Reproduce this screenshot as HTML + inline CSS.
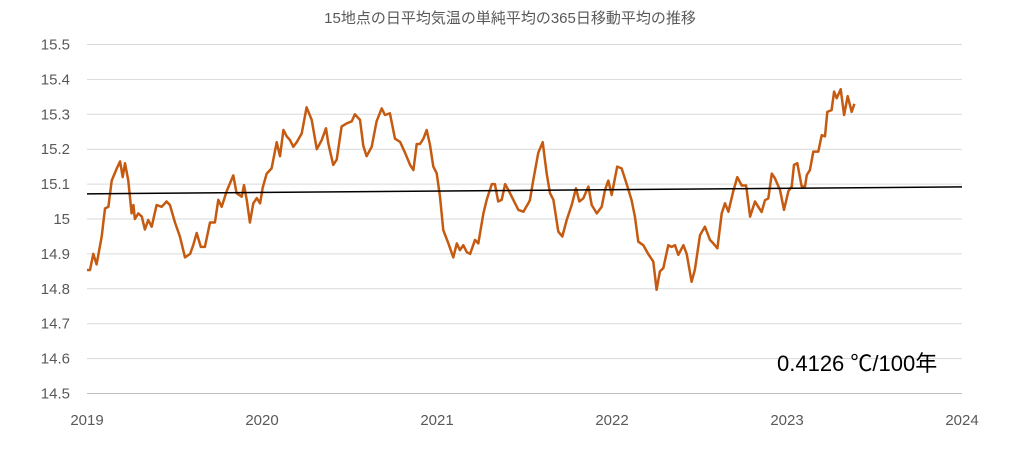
<!DOCTYPE html>
<html><head><meta charset="utf-8"><style>
body{margin:0;background:#fff;}
svg{display:block;font-family:"Liberation Sans","Noto Sans CJK JP",sans-serif;}
</style></head><body>
<svg id="chart" width="1024" height="450" viewBox="0 0 1024 450">
<rect width="1024" height="450" fill="#fff"/>
<text x="510" y="23" text-anchor="middle" font-size="15" fill="#595959">15地点の日平均気温の単純平均の365日移動平均の推移</text>
<g id="grid"></g>
<g id="yticks"></g>
<g id="xticks"></g>
<g id="series"></g>
<text x="777" y="371" font-size="22" fill="#000">0.4126 ℃/100年</text>
</svg>
<script>
const yTicks=[14.5,14.6,14.7,14.8,14.9,15,15.1,15.2,15.3,15.4,15.5];
const yTickLabels=["14.5","14.6","14.7","14.8","14.9","15","15.1","15.2","15.3","15.4","15.5"];
const xTicks=[2019,2020,2021,2022,2023,2024];
const trendStart=[2019,15.072];
const trendEnd=[2024,15.092];
const offsets=[0.000,0.017,0.036,0.055,0.084,0.103,0.122,0.141,0.170,0.189,0.204,0.217,0.236,0.255,0.265,0.274,0.293,0.313,0.331,0.350,0.370,0.398,0.427,0.455,0.474,0.503,0.531,0.560,0.589,0.607,0.627,0.650,0.674,0.703,0.731,0.750,0.770,0.798,0.836,0.855,0.884,0.897,0.913,0.931,0.950,0.970,0.989,1.004,1.027,1.055,1.084,1.103,1.122,1.141,1.160,1.179,1.198,1.227,1.255,1.284,1.313,1.341,1.366,1.379,1.407,1.427,1.455,1.484,1.513,1.531,1.560,1.579,1.598,1.627,1.655,1.684,1.703,1.731,1.760,1.789,1.817,1.846,1.865,1.884,1.903,1.922,1.941,1.960,1.979,1.998,2.017,2.036,2.065,2.093,2.113,2.131,2.150,2.170,2.189,2.217,2.236,2.265,2.284,2.313,2.331,2.350,2.370,2.389,2.408,2.436,2.465,2.494,2.522,2.531,2.550,2.579,2.604,2.627,2.646,2.665,2.693,2.716,2.741,2.770,2.794,2.813,2.836,2.865,2.884,2.913,2.941,2.960,2.979,2.998,3.030,3.055,3.084,3.112,3.131,3.150,3.179,3.207,3.236,3.255,3.274,3.293,3.322,3.341,3.360,3.379,3.408,3.427,3.455,3.474,3.503,3.531,3.560,3.579,3.602,3.627,3.646,3.665,3.693,3.716,3.741,3.766,3.789,3.817,3.836,3.855,3.874,3.893,3.913,3.931,3.960,3.983,4.008,4.027,4.040,4.059,4.084,4.103,4.113,4.131,4.150,4.179,4.198,4.217,4.230,4.255,4.269,4.284,4.307,4.326,4.347,4.370,4.385];
const temps=[14.854,14.854,14.90,14.87,14.95,15.03,15.035,15.11,15.145,15.165,15.12,15.16,15.11,15.016,15.04,15.0,15.016,15.007,14.97,14.997,14.978,15.04,15.035,15.05,15.04,14.99,14.95,14.89,14.90,14.925,14.96,14.92,14.92,14.99,14.99,15.055,15.035,15.08,15.125,15.074,15.064,15.097,15.054,14.99,15.045,15.06,15.045,15.09,15.13,15.145,15.22,15.18,15.255,15.237,15.226,15.207,15.22,15.245,15.32,15.284,15.20,15.226,15.26,15.217,15.155,15.17,15.265,15.274,15.28,15.30,15.284,15.21,15.18,15.207,15.28,15.317,15.298,15.303,15.23,15.221,15.19,15.155,15.14,15.215,15.215,15.23,15.255,15.212,15.15,15.131,15.064,14.968,14.93,14.89,14.93,14.911,14.925,14.905,14.90,14.94,14.93,15.016,15.055,15.10,15.10,15.05,15.055,15.10,15.083,15.055,15.026,15.021,15.045,15.054,15.11,15.19,15.22,15.13,15.074,15.055,14.964,14.95,14.997,15.04,15.088,15.05,15.059,15.093,15.04,15.016,15.035,15.083,15.11,15.069,15.15,15.145,15.10,15.054,15.007,14.935,14.925,14.90,14.878,14.797,14.85,14.859,14.925,14.92,14.925,14.897,14.925,14.90,14.82,14.855,14.954,14.978,14.94,14.93,14.916,15.016,15.045,15.021,15.08,15.12,15.096,15.096,15.007,15.05,15.035,15.02,15.054,15.059,15.13,15.117,15.083,15.026,15.08,15.093,15.155,15.16,15.093,15.093,15.126,15.14,15.193,15.193,15.24,15.237,15.307,15.312,15.365,15.346,15.372,15.298,15.352,15.307,15.33];

const X0=87,X1=962,Y0=393.5,Y1=44.5;
const xs=v=>X0+(v-2019)/(2024-2019)*(X1-X0);
const ys=v=>Y0-(v-14.5)/(15.5-14.5)*(Y0-Y1);
const NS="http://www.w3.org/2000/svg";
function mk(tag,parent,attrs){const e=document.createElementNS(NS,tag);for(const k in attrs)e.setAttribute(k,attrs[k]);parent.appendChild(e);return e;}
const grid=document.getElementById('grid'),yt=document.getElementById('yticks'),xt=document.getElementById('xticks'),ser=document.getElementById('series');
yTicks.forEach((t,i)=>{
  const l=mk('line',grid,{x1:X0,x2:X1,y1:ys(t),y2:ys(t),stroke:i===0?'#bfbfbf':'#d9d9d9','stroke-width':1});
  
  
  const tx=mk('text',yt,{x:70,y:ys(t)+5,'text-anchor':'end','font-size':15,fill:'#595959'});
  tx.textContent=yTickLabels[i];
  
  
});
xTicks.forEach(t=>{
  const tx=mk('text',xt,{x:xs(t),y:425,'text-anchor':'middle','font-size':15,fill:'#595959'});
  tx.textContent=String(t);
  
  
});
const pts=offsets.map((o,i)=>xs(2019+o).toFixed(1)+','+ys(temps[i]).toFixed(1)).join(' ');
const pl=mk('polyline',ser,{points:pts,fill:'none',stroke:'#c55a11','stroke-width':2.5,'stroke-linejoin':'round'});


const tl=mk('line',ser,{x1:xs(trendStart[0]),y1:ys(trendStart[1]),x2:xs(trendEnd[0]),y2:ys(trendEnd[1]),stroke:'#000','stroke-width':1.5});


</script>
</body></html>
